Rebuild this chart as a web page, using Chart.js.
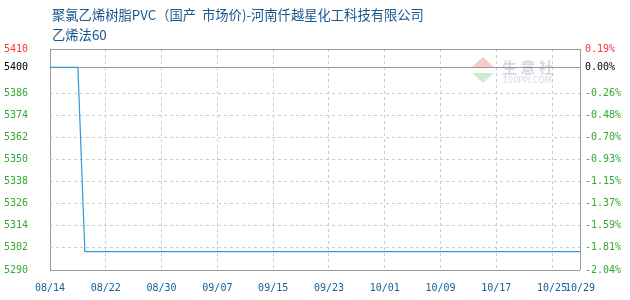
<!DOCTYPE html>
<html>
<head>
<meta charset="utf-8">
<script src="https://cdn.jsdelivr.net/npm/chart.js@4/dist/chart.umd.min.js"></script>
<style>
  body { margin: 0; background: #fff; }
  #wrap { position: relative; width: 630px; height: 300px; }
  #title { position: absolute; left: 52px; top: 5px; font: 13.3px "Noto Sans CJK SC", sans-serif; color: #17568f; line-height: 20px; }
  canvas { position: absolute; left: 0; top: 0; }
</style>
</head>
<body>
<div id="wrap">
  <canvas id="myChart" width="630" height="300"></canvas>
  <div id="title">聚氯乙烯树脂PVC（国产&nbsp;&nbsp;市场价)-河南仟越星化工科技有限公司<br>乙烯法60</div>
</div>
<script>
// данные с картинки
let priceDates = ['08/14', '08/18', '08/19', '10/29'];
let prices = [5400, 5400, 5300, 5300];
let basePrice = 5400;

let xTickLabels = ['08/14', '08/22', '08/30', '09/07', '09/15', '09/23', '10/01', '10/09', '10/17', '10/25', '10/29'];
let yTicks = [5290, 5302, 5314, 5326, 5338, 5350, 5362, 5374, 5386, 5400, 5410];
let pctLabels = ['-2.04%', '-1.81%', '-1.59%', '-1.37%', '-1.15%', '-0.93%', '-0.70%', '-0.48%', '-0.26%', '0.00%', '0.19%'];

// день от 08/14
function dayOf(s) {
  let p = s.split('/');
  return (Date.UTC(2023, p[0] - 1, +p[1]) - Date.UTC(2023, 7, 14)) / 86400000;
}
let xTickDays = xTickLabels.map(dayOf);
let lastDay = xTickDays[xTickDays.length - 1];
let points = priceDates.map((d, i) => ({x: dayOf(d), y: prices[i]}));

function labelColor(v) {
  if (v > basePrice) return '#ff3333';
  if (v == basePrice) return '#000000';
  return '#33aa33';
}
function edgeOrBase(v, min, max) {
  return v == min || v == max || v == basePrice;
}

let monoFont = {family: 'DejaVu Sans Mono', size: 10};

// водяной знак
const watermark = {
  id: 'watermark',
  beforeDatasetsDraw(chart) {
    let c = chart.ctx;
    c.save();
    c.globalAlpha = 0.35;
    c.fillStyle = '#ee6666';
    c.beginPath(); c.moveTo(483, 57); c.lineTo(494, 67); c.lineTo(472, 67); c.fill();
    c.fillStyle = '#66cc77';
    c.beginPath(); c.moveTo(472, 73); c.lineTo(494, 73); c.lineTo(483, 83); c.fill();
    c.fillStyle = '#8090b0';
    c.font = 'bold 15px "Noto Sans CJK SC"';
    c.textBaseline = 'middle';
    c.fillText('生 意 社', 502, 67);
    c.fillStyle = '#909090';
    c.font = '8px "DejaVu Sans"';
    c.fillText('100PPI.COM', 503, 81);
    c.restore();
  }
};

let ctx = document.getElementById('myChart').getContext('2d');
let myChart = new Chart(ctx, {
  type: 'line',
  data: {
    datasets: [{
      data: points,
      borderColor: '#3399dd',
      borderWidth: 1.2,
      pointRadius: 0,
      tension: 0,
      yAxisID: 'y'
    }]
  },
  options: {
    responsive: false,
    animation: false,
    layout: {padding: {top: 49, left: 0, right: 0, bottom: 0}},
    plugins: {legend: {display: false}, tooltip: {enabled: false}, title: {display: false}},
    scales: {
      x: {
        type: 'linear',
        min: 0,
        max: lastDay,
        afterBuildTicks: s => { s.ticks = xTickDays.map(v => ({value: v})); },
        afterFit: s => { s.height = 30; },
        ticks: {
          autoSkip: false,
          maxRotation: 0,
          padding: 12,
          color: '#16609c',
          font: monoFont,
          callback: (v, i) => xTickLabels[i]
        },
        grid: {
          drawTicks: false,
          color: c => (c.tick && (c.tick.value == 0 || c.tick.value == lastDay)) ? '#9a9a9a' : '#cccccc'
        },
        border: {display: false, dash: c => (c.tick && (c.tick.value == 0 || c.tick.value == lastDay)) ? [] : [3, 3]}
      },
      y: {
        position: 'left',
        min: yTicks[0],
        max: yTicks[yTicks.length - 1],
        afterBuildTicks: s => { s.ticks = yTicks.map(v => ({value: v})); },
        afterFit: s => { s.width = 50; },
        ticks: {
          padding: 22,
          font: monoFont,
          color: c => labelColor(c.tick.value),
          callback: v => String(v)
        },
        grid: {
          drawTicks: false,
          color: c => (c.tick && edgeOrBase(c.tick.value, yTicks[0], yTicks[yTicks.length - 1])) ? '#9a9a9a' : '#cccccc'
        },
        border: {display: false, dash: c => (c.tick && edgeOrBase(c.tick.value, yTicks[0], yTicks[yTicks.length - 1])) ? [] : [3, 3]}
      },
      y2: {
        position: 'right',
        min: yTicks[0],
        max: yTicks[yTicks.length - 1],
        afterBuildTicks: s => { s.ticks = yTicks.map(v => ({value: v})); },
        afterFit: s => { s.width = 50; },
        ticks: {
          padding: 5,
          font: monoFont,
          color: c => labelColor(c.tick.value),
          callback: (v, i) => pctLabels[i]
        },
        grid: {drawOnChartArea: false, drawTicks: false},
        border: {display: false}
      }
    }
  },
  plugins: [watermark]
});
</script>
</body>
</html>
